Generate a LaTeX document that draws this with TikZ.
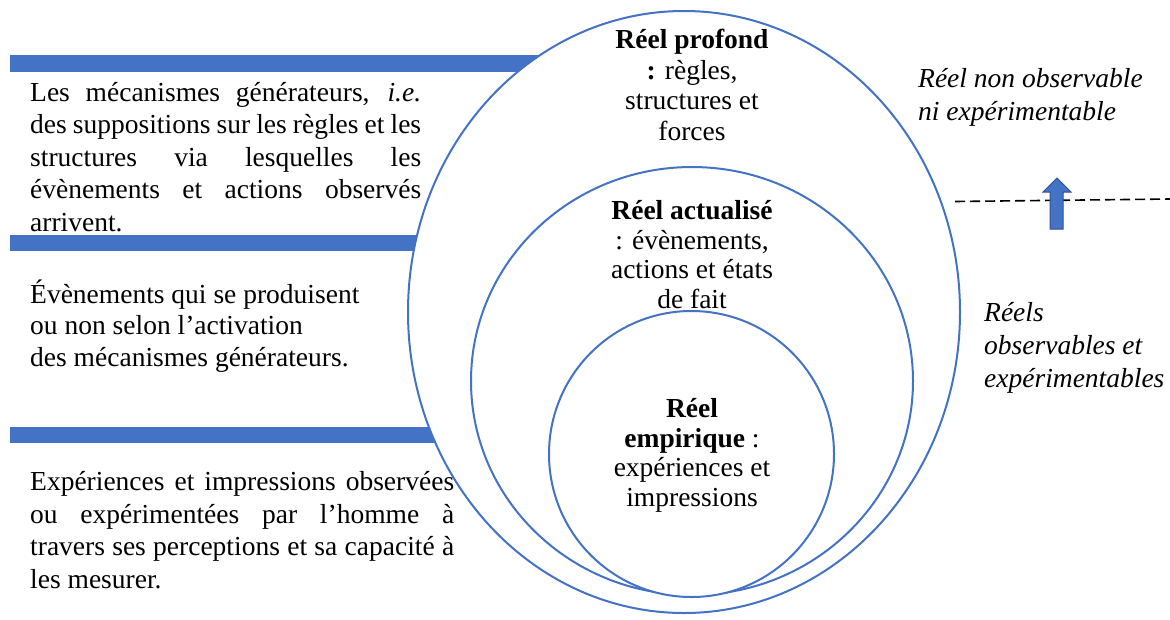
\documentclass[tikz,border=0pt]{standalone}
\usepackage{fontspec}
\setmainfont{Liberation Serif}
\usetikzlibrary{shapes.geometric}
\definecolor{wblue}{RGB}{68,114,196}
\definecolor{wdark}{RGB}{47,82,143}
\begin{document}
\begin{tikzpicture}[x=1pt,y=-1pt,
  ring/.style={ellipse, draw=wblue, line width=2pt, fill=white, inner sep=0pt},
  bar/.style={fill=wblue},
  body/.style={font=\fontsize{27.5}{32.5}\selectfont, inner sep=0pt, align=left},
  ctext/.style={font=\fontsize{27.5}{29.5}\selectfont, inner sep=0pt, align=center},
  itext/.style={font=\fontsize{27.5}{33}\selectfont\itshape, inner sep=0pt, align=left},
  border/.style={dashed, line width=1.6pt, dash pattern=on 10pt off 5pt},
  blockarrow/.style={fill=wblue, draw=wdark, line width=1pt}]
\useasboundingbox (0,0) rectangle (1170,619);
% bars
\fill[bar] (10,55) rectangle (684,72);
\fill[bar] (10,235) rectangle (684,251);
\fill[bar] (10,427) rectangle (684,443);
% ellipses
\node[ring, minimum width=552pt, minimum height=602pt] (outer) at (684,312) {};
\node[ring, minimum width=442pt, minimum height=428pt] (middle) at (692,381) {};
\node[ring, minimum width=285pt, minimum height=286pt] (inner) at (691.5,454) {};
% centre texts (base anchor = last line baseline)
\node[ctext, anchor=base, font=\fontsize{27.5}{30.5}\selectfont] (tprof) at (692,140) {\textbf{Réel profond}\\\textbf{:} règles,\\structures et\\forces};
\node[ctext, anchor=base] (tact) at (692,308) {\textbf{Réel actualisé}\\: évènements,\\actions et états\\de fait};
\node[ctext, anchor=base] (temp) at (692,506) {\textbf{Réel}\\\textbf{empirique} :\\expériences et\\impressions};
% left texts
\node[body, anchor=base west] (t1) at (30,231) {\makebox[391pt][s]{Les mécanismes générateurs, \textit{i.e.}}\\\makebox[391pt][s]{des suppositions sur les règles et les}\\\makebox[391pt][s]{structures via lesquelles les}\\\makebox[391pt][s]{évènements et actions observés}\\arrivent.};
\node[body, anchor=base west, font=\fontsize{27.5}{31.5}\selectfont] (t2) at (30,366) {Évènements qui se produisent\\ou non selon l’activation\\des mécanismes générateurs.};
\node[body, anchor=base west] (t3) at (30,588) {\makebox[424pt][s]{Expériences et impressions observées}\\\makebox[424pt][s]{ou expérimentées par l’homme à}\\\makebox[424pt][s]{travers ses perceptions et sa capacité à}\\les mesurer.};
% right texts
\node[itext, anchor=base west] (r1) at (918,120) {Réel non observable\\ni expérimentable};
\node[itext, anchor=base west] (r2) at (984,387) {Réels\\observables et\\expérimentables};
% boundary line and arrow
\coordinate (dl) at (955,201.5);
\coordinate (dr) at (1170,199);
\draw[border] (dl) -- (dr);
\draw[blockarrow] (1050,229) -- (1050,192) -- (1043,192) -- (1057,178) -- (1071,192) -- (1063,192) -- (1063,229) -- cycle;
\end{tikzpicture}
\end{document}
